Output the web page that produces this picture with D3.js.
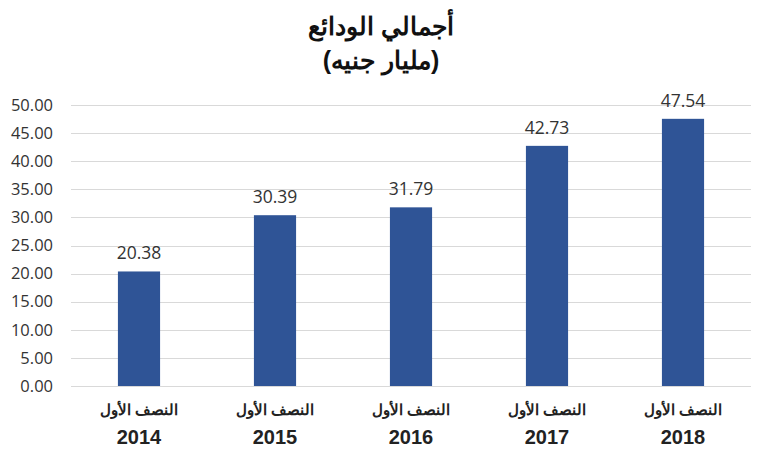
<!DOCTYPE html>
<html>
<head>
<meta charset="utf-8">
<script src="https://cdn.jsdelivr.net/npm/d3@7"></script>
<style>
  body { margin: 0; background: #fff; }
</style>
</head>
<body>
<div id="chart"></div>
<script>
const years = ['2014', '2015', '2016', '2017', '2018'];
const halfLabel = 'النصف الأول';
const deposits = [20.38, 30.39, 31.79, 42.73, 47.54];
const yTicks = [0, 5, 10, 15, 20, 25, 30, 35, 40, 45, 50];
const titleLines = ['أجمالي الودائع', '(مليار جنيه)'];

const W = 770, H = 456;
const margin = { top: 105, right: 19, bottom: 70, left: 71 };
const width = W - margin.left - margin.right;
const height = H - margin.top - margin.bottom;

const svg = d3.select('#chart').append('svg')
  .attr('width', W)
  .attr('height', H);

const g = svg.append('g').attr('transform', 'translate(' + margin.left + ',' + margin.top + ')');

const x = d3.scaleBand()
  .domain(years)
  .range([0, width])
  .paddingInner(0.69)
  .paddingOuter(0.345);

const y = d3.scaleLinear()
  .domain([0, 50])
  .range([height, 0]);

// gridlines
g.append('g')
  .selectAll('line')
  .data(yTicks)
  .enter().append('line')
    .attr('x1', 0)
    .attr('x2', width)
    .attr('y1', function(d) { return Math.round(y(d)) + 0.5; })
    .attr('y2', function(d) { return Math.round(y(d)) + 0.5; })
    .attr('stroke', '#d9d9d9')
    .attr('stroke-width', 1);

// y axis labels
const yAxis = g.append('g')
  .call(d3.axisLeft(y).tickValues(yTicks).tickSize(0).tickPadding(18)
    .tickFormat(function(d) { return d.toFixed(2); }));
yAxis.select('.domain').remove();
yAxis.selectAll('text')
  .attr('fill', '#333')
  .style('font-family', '"Open Sans", "Liberation Sans", sans-serif')
  .style('font-size', '16.5px');

// bars
g.append('g')
  .selectAll('rect')
  .data(deposits)
  .enter().append('rect')
    .attr('x', function(d, i) { return x(years[i]); })
    .attr('y', function(d) { return y(d); })
    .attr('width', x.bandwidth())
    .attr('height', function(d) { return height - y(d); })
    .attr('fill', '#2f5496');

// value labels
g.append('g')
  .selectAll('text')
  .data(deposits)
  .enter().append('text')
    .attr('x', function(d, i) { return x(years[i]) + x.bandwidth() / 2; })
    .attr('y', function(d) { return y(d) - 12; })
    .attr('text-anchor', 'middle')
    .attr('fill', '#333')
    .style('font-family', '"Open Sans", "Liberation Sans", sans-serif')
    .style('font-size', '17.5px')
    .text(function(d) { return d.toFixed(2); });

// x labels (two lines)
const xl = g.append('g')
  .selectAll('g')
  .data(years)
  .enter().append('g')
    .attr('transform', function(d) { return 'translate(' + (x(d) + x.bandwidth() / 2) + ',' + height + ')'; });

xl.append('text')
  .attr('y', 29)
  .attr('text-anchor', 'middle')
  .attr('fill', '#222')
  .style('font-family', '"Liberation Sans", Arial, sans-serif')
  .style('font-weight', 'bold')
  .style('font-size', '15px')
  .attr('direction', 'rtl')
  .text(halfLabel);

xl.append('text')
  .attr('y', 58)
  .attr('text-anchor', 'middle')
  .attr('fill', '#222')
  .style('font-family', '"Liberation Sans", Arial, sans-serif')
  .style('font-weight', 'bold')
  .style('font-size', '20px')
  .text(function(d) { return d; });

// title
svg.append('g')
  .selectAll('text')
  .data(titleLines)
  .enter().append('text')
    .attr('x', 381)
    .attr('y', function(d, i) { return 35 + i * 34; })
    .attr('text-anchor', 'middle')
    .attr('direction', 'rtl')
    .attr('fill', '#111')
    .style('font-family', '"Liberation Sans", Arial, sans-serif')
    .style('font-weight', 'bold')
    .style('font-size', '25px')
    .text(function(d) { return d; });
</script>
</body>
</html>
